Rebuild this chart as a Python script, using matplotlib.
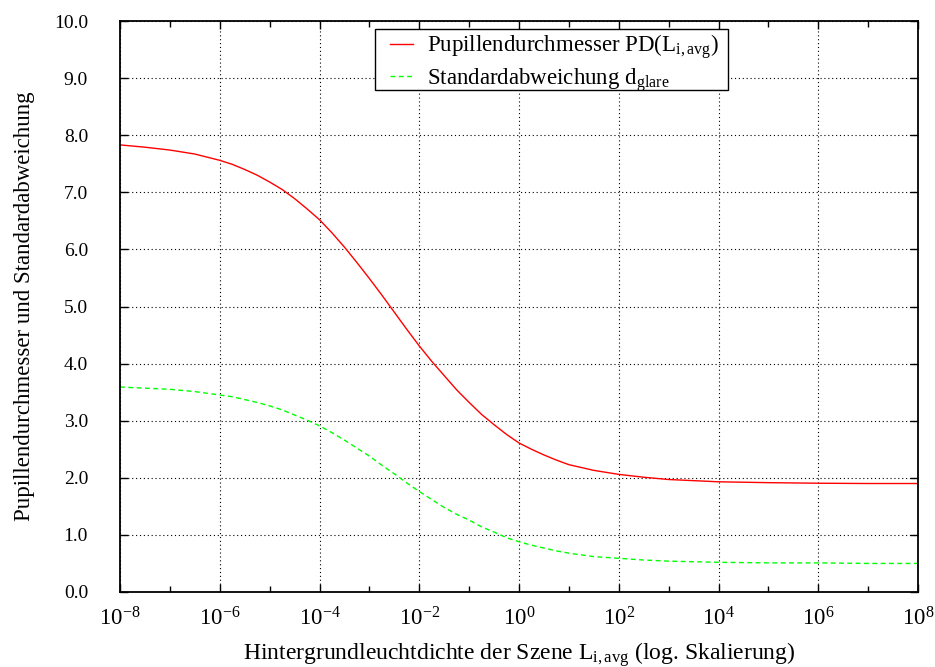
import math

import matplotlib

matplotlib.use("Agg")
import matplotlib.pyplot as plt
from matplotlib.patches import Rectangle
from matplotlib.ticker import FixedLocator, FuncFormatter, MultipleLocator

plt.rcParams.update(
    {
        "font.family": "Liberation Serif",
        "mathtext.fontset": "custom",
        "mathtext.rm": "Liberation Serif",
        "mathtext.it": "Liberation Serif:italic",
        "mathtext.bf": "Liberation Serif:bold",
        "font.size": 17,
    }
)

# log10 of background luminance
log_lum = [
    -8, -7.5, -7, -6.5, -6,
    -5.75, -5.5, -5.25, -5, -4.75, -4.5, -4.25, -4, -3.75, -3.5,
    -3.25, -3, -2.75, -2.5, -2.25, -2, -1.75, -1.5, -1.25, -1,
    -0.75, -0.5, -0.25, 0, 0.25, 0.5, 0.75,
    1, 1.5, 2, 2.5, 3, 3.5, 4,
    5, 6, 7, 8,
]
pupil_diameter = [
    7.83, 7.79, 7.74, 7.67, 7.56,
    7.49, 7.40, 7.30, 7.18, 7.05, 6.89, 6.71, 6.52, 6.29, 6.04,
    5.77, 5.49, 5.20, 4.90, 4.60, 4.31, 4.04, 3.79, 3.54, 3.32,
    3.11, 2.93, 2.76, 2.61, 2.50, 2.40, 2.31,
    2.23, 2.13, 2.06, 2.01, 1.97, 1.95, 1.93,
    1.915, 1.905, 1.90, 1.90,
]
std_dev = [
    3.59, 3.57, 3.55, 3.51, 3.45,
    3.42, 3.37, 3.32, 3.26, 3.19, 3.10, 3.01, 2.91, 2.79, 2.66,
    2.52, 2.38, 2.22, 2.07, 1.91, 1.76, 1.62, 1.48, 1.36, 1.26,
    1.14, 1.05, 0.95, 0.88, 0.82, 0.77, 0.72,
    0.68, 0.62, 0.59, 0.56, 0.54, 0.53, 0.52,
    0.51, 0.51, 0.50, 0.50,
]
luminance = [10.0 ** e for e in log_lum]
major_exp = list(range(-8, 9, 2))
minor_exp = list(range(-7, 8, 2))

fig = plt.figure(figsize=(9.35, 6.67), dpi=100)
ax = fig.add_axes([120 / 935, 75 / 667, 798 / 935, 571 / 667])

ax.plot(luminance, pupil_diameter, color="#ff0000", lw=1.0,
        label=r"Pupillendurchmesser PD(L$_{\mathrm{i,avg}}$)")
ax.plot(luminance, std_dev, color="#00ff00", lw=1.0, ls=(0, (3.5, 2.5)),
        label=r"Standardabweichung d$_{\mathrm{glare}}$")

ax.set_xscale("log")
ax.set_xlim(1e-8, 1e8)
ax.set_ylim(0, 10)
ax.xaxis.set_major_locator(FixedLocator([10.0 ** e for e in major_exp]))
ax.xaxis.set_minor_locator(FixedLocator([10.0 ** e for e in minor_exp]))
ax.xaxis.set_major_formatter(
    FuncFormatter(lambda v, _: r"$\mathrm{10^{%d}}$" % round(math.log10(v)))
)
ax.xaxis.set_minor_formatter(FuncFormatter(lambda v, _: ""))
ax.yaxis.set_major_locator(MultipleLocator(1.0))
ax.yaxis.set_major_formatter(FuncFormatter(lambda v, _: f"{v:.1f}"))

ax.grid(True, which="major", color="black", lw=0.8, ls=(0, (1, 2.5)))
ax.tick_params(which="both", direction="in", top=True, right=True, width=1.0)
ax.tick_params(which="major", length=6)
ax.tick_params(which="minor", length=4)
ax.tick_params(axis="y", pad=23, labelsize=14)
ax.tick_params(axis="x", pad=11, labelsize=16.5)
for spine in ax.spines.values():
    spine.set_linewidth(1.3)

ax.set_xlabel(r"Hintergrundleuchtdichte der Szene L$_{\mathrm{i,avg}}$ (log. Skalierung)")
ax.set_ylabel("Pupillendurchmesser und Standardabweichung", fontsize=16.5)
ax.xaxis.set_label_coords(0.5, -0.084)
ax.yaxis.set_label_coords(-0.1065, 0.5)

# legend box drawn separately so it can be tighter than the legend's own frame
ax.add_patch(Rectangle((0.3195, 0.879), 0.4425, 0.107, transform=ax.transAxes,
                       facecolor="white", edgecolor="black", lw=1.0, zorder=4))
leg = ax.legend(loc="upper left", bbox_to_anchor=(0.3383, 0.980), borderaxespad=0,
                frameon=False, handlelength=1.0, handletextpad=0.6, borderpad=0,
                labelspacing=0.2, fontsize=16.5)
leg.set_zorder(5)

fig.savefig("out.png", dpi=100)
